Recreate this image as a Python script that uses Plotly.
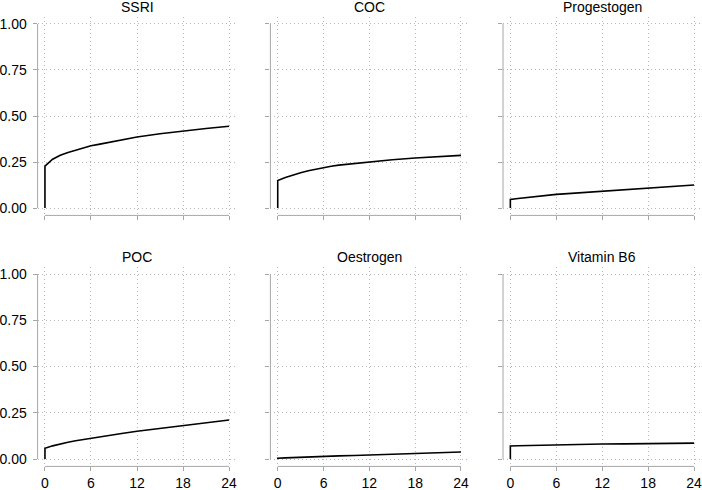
import plotly.graph_objects as go

titles = ["SSRI", "COC", "Progestogen", "POC", "Oestrogen", "Vitamin B6"]

months = [0, 0, 1, 2, 3, 4, 5, 6, 7, 8, 10, 12, 15, 18, 21, 24]
ssri = [0.0, 0.228, 0.265, 0.287, 0.302, 0.315, 0.327, 0.338, 0.346, 0.354, 0.370, 0.386, 0.404, 0.420, 0.432, 0.444]
coc = [0.0, 0.150, 0.166, 0.180, 0.192, 0.203, 0.212, 0.220, 0.227, 0.233, 0.242, 0.250, 0.262, 0.272, 0.279, 0.286]
progestogen = [0.0, 0.047, 0.052, 0.057, 0.062, 0.066, 0.070, 0.074, 0.077, 0.080, 0.086, 0.092, 0.101, 0.110, 0.118, 0.125]
poc = [0.0, 0.058, 0.071, 0.082, 0.091, 0.099, 0.106, 0.113, 0.119, 0.125, 0.138, 0.150, 0.166, 0.182, 0.196, 0.211]
oestrogen = [0.0, 0.004, 0.006, 0.008, 0.010, 0.011, 0.013, 0.014, 0.016, 0.017, 0.019, 0.022, 0.026, 0.030, 0.034, 0.038]
vitb6 = [0.0, 0.070, 0.072, 0.073, 0.074, 0.075, 0.076, 0.077, 0.077, 0.078, 0.080, 0.081, 0.082, 0.083, 0.085, 0.086]
series = [ssri, coc, progestogen, poc, oestrogen, vitb6]

xticks = [0, 6, 12, 18, 24]
yticks = [0.0, 0.25, 0.5, 0.75, 1.0]
yticktext = ["0.00", "0.25", "0.50", "0.75", "1.00"]

W, H = 702, 490
col_px = [(37.6, 236.4), (270.4, 468.3), (503.0, 701.4)]
row_px = [(16.6, 215.4), (266.6, 466.4)]

fig = go.Figure()
font = "Liberation Sans, Arial, sans-serif"
axis_col = "#a6a6a6"
grid_col = "#b8b8b8"

xpad = (xticks[-1] - xticks[0]) * 0.04
ypad = (yticks[-1] - yticks[0]) * 0.04

for i, (title, ys) in enumerate(zip(titles, series)):
    r, c = divmod(i, 3)
    n = i + 1
    xa = "xaxis" if n == 1 else f"xaxis{n}"
    ya = "yaxis" if n == 1 else f"yaxis{n}"
    xr = "x" if n == 1 else f"x{n}"
    yr = "y" if n == 1 else f"y{n}"
    x0p, x1p = col_px[c]
    y0p, y1p = row_px[r]
    fig.add_trace(go.Scatter(x=months, y=ys, mode="lines",
                             line=dict(color="black", width=1.6),
                             xaxis=xr, yaxis=yr, showlegend=False, hoverinfo="skip"))
    fig.layout[xa] = dict(
        domain=[x0p / W, x1p / W], anchor=yr,
        range=[xticks[0] - xpad, xticks[-1] + xpad],
        tickvals=xticks, ticktext=[str(v) for v in xticks],
        showticklabels=(r == 1), ticks="outside", ticklen=4, tickcolor=axis_col,
        showgrid=True, gridcolor=grid_col, griddash="1px,3px", gridwidth=1,
        zeroline=False, showline=False, automargin=False,
        ticklabeloverflow="allow",
        tickfont=dict(family=font, size=14, color="black"),
        fixedrange=True,
    )
    fig.layout[ya] = dict(
        domain=[1 - y1p / H, 1 - y0p / H], anchor=xr,
        range=[yticks[0] - ypad, yticks[-1] + ypad],
        tickvals=yticks, ticktext=yticktext,
        showticklabels=(c == 0), ticks="outside", ticklen=4, tickcolor=axis_col,
        showgrid=True, gridcolor=grid_col, griddash="1px,3px", gridwidth=1,
        zeroline=False, showline=False, automargin=False,
        ticklabeloverflow="allow",
        tickfont=dict(family=font, size=14, color="black"),
        ticklabelstandoff=3,
        fixedrange=True,
    )
    # R-style axis lines spanning tick range
    fig.add_shape(type="line", xref=f"{xr} domain", yref=yr, x0=0, x1=0,
                  y0=yticks[0], y1=yticks[-1], line=dict(color=axis_col, width=1))
    fig.add_shape(type="line", xref=xr, yref=f"{yr} domain", x0=xticks[0], x1=xticks[-1],
                  y0=0, y1=0, line=dict(color=axis_col, width=1))
    fig.add_annotation(text=title, xref="paper", yref="paper",
                       x=(x0p + x1p) / 2 / W, y=1 - (y0p - 9.5) / H,
                       xanchor="center", yanchor="middle", showarrow=False,
                       font=dict(family=font, size=14, color="black"))

fig.update_layout(width=W, height=H, margin=dict(l=0, r=0, t=0, b=0),
                  plot_bgcolor="white", paper_bgcolor="white")
fig.write_html("out.html", config={"displayModeBar": False},
               post_script="document.body.style.margin='0';document.body.style.padding='0';")
